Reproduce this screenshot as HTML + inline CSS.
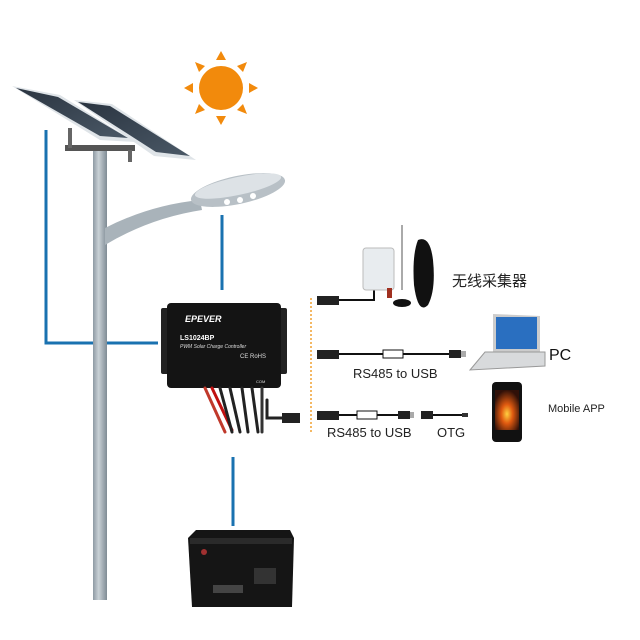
<!DOCTYPE html>
<html><head><meta charset="utf-8"><style>
html,body{margin:0;padding:0;background:#fff;}
svg{display:block;}
text{font-family:"Liberation Sans","Noto Sans CJK SC",sans-serif;}
</style></head><body>
<svg width="640" height="640" viewBox="0 0 640 640">
<defs>
<linearGradient id="pole" x1="0" x2="1"><stop offset="0" stop-color="#8e9aa3"/><stop offset="0.4" stop-color="#c9d1d6"/><stop offset="1" stop-color="#7f8b94"/></linearGradient>
<linearGradient id="pan" x1="0" y1="0" x2="1" y2="1"><stop offset="0" stop-color="#2a3440"/><stop offset="1" stop-color="#4a5866"/></linearGradient>
<radialGradient id="scr" cx="0.5" cy="0.6" r="0.6"><stop offset="0" stop-color="#ffd040"/><stop offset="0.4" stop-color="#e05a10"/><stop offset="1" stop-color="#301008"/></radialGradient>
</defs>
<!-- sun -->
<g fill="#f28a0c">
<circle cx="221" cy="88" r="22"/>
<polygon points="221,51 216,60 226,60"/>
<polygon points="221,125 216,116 226,116"/>
<polygon points="184,88 193,83 193,93"/>
<polygon points="258,88 249,83 249,93"/>
<polygon points="195,62 205,66 199,72"/>
<polygon points="247,62 237,66 243,72"/>
<polygon points="195,114 205,110 199,104"/>
<polygon points="247,114 237,110 243,104"/>
</g>
<!-- blue lines -->
<g stroke="#1a72b0" stroke-width="3" fill="none">
<polyline points="46,130 46,343 158,343"/>
<line x1="222" y1="215" x2="222" y2="290"/>
<line x1="233" y1="457" x2="233" y2="526"/>
</g>
<!-- pole -->
<rect x="93" y="145" width="14" height="455" fill="url(#pole)"/>
<path d="M105,228 Q150,205 200,200 L202,210 Q150,218 105,245 Z" fill="#a9b3ba"/>
<rect x="65" y="145" width="70" height="6" fill="#555"/>
<rect x="68" y="128" width="4" height="20" fill="#666"/>
<rect x="128" y="150" width="4" height="12" fill="#666"/>
<!-- panels -->
<polygon points="12,86 60,95 135,142 100,140" fill="#dfe4e8"/>
<polygon points="16,88 58,97 128,138 100,136" fill="url(#pan)"/>
<polygon points="74,100 112,104 196,160 154,156" fill="#dfe4e8"/>
<polygon points="78,102 110,106 190,156 156,152" fill="url(#pan)"/>
<!-- lamp -->
<ellipse cx="238" cy="190" rx="48" ry="14" transform="rotate(-12 238 190)" fill="#b8c0c6"/>
<ellipse cx="238" cy="186" rx="44" ry="9" transform="rotate(-12 238 186)" fill="#dde2e6"/>
<g fill="#fff"><circle cx="227" cy="202" r="3"/><circle cx="240" cy="200" r="3"/><circle cx="253" cy="196" r="3"/></g>
<!-- controller -->
<rect x="161" y="308" width="8" height="66" rx="2" fill="#222"/>
<rect x="278" y="308" width="9" height="66" rx="2" fill="#222"/>
<rect x="167" y="303" width="114" height="85" rx="4" fill="#141414"/>
<text x="185" y="322" fill="#fff" font-size="9" font-weight="bold" font-style="italic">EPEVER</text>
<text x="180" y="340" fill="#fff" font-size="7" font-weight="bold">LS1024BP</text>
<text x="180" y="348" fill="#ddd" font-size="5" font-style="italic">PWM Solar Charge Controller</text>
<text x="240" y="358" fill="#ddd" font-size="6">CE RoHS</text>
<text x="256" y="383" fill="#ddd" font-size="4">COM</text>
<g stroke-linecap="round" fill="none" stroke-width="3">
<path d="M205,388 L225,432" stroke="#c0392b"/>
<path d="M212,388 L232,430" stroke="#c01010"/>
<path d="M220,388 L232,432" stroke="#222"/>
<path d="M230,388 L240,432" stroke="#222"/>
<path d="M242,388 L248,432" stroke="#222"/>
<path d="M252,388 L258,432" stroke="#222"/>
<path d="M262,388 L262,432" stroke="#333"/>
<path d="M267,400 L267,418 L282,418" stroke="#222"/>
</g>
<rect x="282" y="413" width="18" height="10" fill="#222"/>
<!-- dotted line -->
<line x1="311" y1="298" x2="311" y2="432" stroke="#f0a030" stroke-width="1.5" stroke-dasharray="2,2"/>
<!-- row 0 -->
<rect x="317" y="296" width="22" height="9" fill="#222"/>
<polyline points="339,300 374,300 374,288" stroke="#111" stroke-width="2" fill="none"/>
<rect x="363" y="248" width="31" height="42" rx="3" fill="#e8ecef" stroke="#bbb"/>
<rect x="387" y="288" width="5" height="10" fill="#a03020"/>
<line x1="402" y1="225" x2="402" y2="290" stroke="#555"/>
<path d="M418,240 q12,-5 15,20 q3,30 -5,45 q-10,10 -14,-20 q-2,-30 4,-45z" fill="#111"/>
<ellipse cx="402" cy="303" rx="9" ry="4" fill="#111"/>
<text x="452" y="286" font-size="15" fill="#222">无线采集器</text>
<!-- row 1 -->
<rect x="317" y="350" width="22" height="9" fill="#222"/>
<line x1="339" y1="354" x2="450" y2="354" stroke="#111" stroke-width="2"/>
<rect x="383" y="350" width="20" height="8" fill="#fff" stroke="#111"/>
<rect x="449" y="350" width="12" height="8" fill="#222"/>
<rect x="461" y="351" width="5" height="6" fill="#aaa"/>
<text x="353" y="378" font-size="13" fill="#222">RS485 to USB</text>
<!-- laptop -->
<polygon points="493,314 540,316 540,352 493,352" fill="#ccc"/>
<rect x="496" y="317" width="41" height="32" fill="#2a6fc0"/>
<polygon points="485,352 545,352 545,366 470,370" fill="#d8dadc" stroke="#999"/>
<text x="549" y="360" font-size="16" fill="#111">PC</text>
<!-- row 2 -->
<rect x="317" y="411" width="22" height="9" fill="#222"/>
<line x1="339" y1="415" x2="402" y2="415" stroke="#111" stroke-width="2"/>
<rect x="357" y="411" width="20" height="8" fill="#fff" stroke="#111"/>
<rect x="398" y="411" width="12" height="8" fill="#222"/>
<rect x="410" y="412" width="4" height="6" fill="#aaa"/>
<rect x="421" y="411" width="12" height="8" fill="#222"/>
<line x1="433" y1="415" x2="462" y2="415" stroke="#111" stroke-width="2"/>
<rect x="462" y="413" width="6" height="4" fill="#333"/>
<text x="327" y="437" font-size="13" fill="#222">RS485 to USB</text>
<text x="437" y="437" font-size="13" fill="#222">OTG</text>
<!-- phone -->
<rect x="492" y="382" width="30" height="60" rx="4" fill="#111"/>
<rect x="495" y="390" width="24" height="40" fill="url(#scr)"/>
<text x="548" y="412" font-size="11" fill="#222">Mobile APP</text>
<!-- battery -->
<polygon points="188,538 196,530 290,530 294,538 292,607 192,607" fill="#151515"/>
<rect x="190" y="538" width="102" height="6" fill="#2a2a2a"/>
<circle cx="204" cy="552" r="3" fill="#a03030"/>
<rect x="213" y="585" width="30" height="8" fill="#444"/>
<rect x="254" y="568" width="22" height="16" fill="#333"/>
</svg>
</body></html>
